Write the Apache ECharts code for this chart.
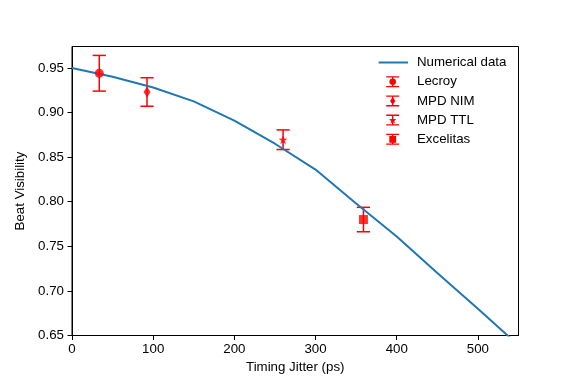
<!DOCTYPE html>
<html>
<head>
<meta charset="utf-8">
<script src="https://cdn.jsdelivr.net/npm/echarts@6/dist/echarts.min.js"></script>
<style>
html, body { margin: 0; padding: 0; background: #fff; }
#main { width: 576px; height: 384px; }
</style>
</head>
<body>
<div id="main"></div>
<script>
// numerical curve (timing jitter in ps -> visibility)
var jitter = [0, 50, 100, 150, 200, 250, 300, 350, 400, 450, 500, 550];
var visibility = [0.950, 0.940, 0.928, 0.9125, 0.891, 0.865, 0.836, 0.798, 0.761, 0.720, 0.680, 0.639];

// measured points
var detNames = ['Lecroy', 'MPD NIM', 'MPD TTL', 'Excelitas'];
var detJitter = [33.6, 92.4, 260, 359];
var detVis = [0.944, 0.923, 0.8695, 0.780];
var detErr = [0.020, 0.016, 0.011, 0.0137];

var xTicks = [0, 100, 200, 300, 400, 500];
var yTicks = [0.65, 0.70, 0.75, 0.80, 0.85, 0.90, 0.95];

var font = 'Liberation Sans, Arial, sans-serif';
var red = '#ff0000';
var blue = '#1f77b4';

// star marker path (10 points)
function starPath(cx, cy, ro, ri) {
    var s = '';
    for (var i = 0; i < 10; i++) {
        var r = i % 2 === 0 ? ro : ri;
        var a = -Math.PI / 2 + i * Math.PI / 5;
        s += (i === 0 ? 'M' : 'L') + (cx + r * Math.cos(a)).toFixed(2) + ' ' + (cy + r * Math.sin(a)).toFixed(2) + ' ';
    }
    return s + 'Z';
}
function rect(x1, y1, x2, y2) {
    return 'M' + x1 + ' ' + y1 + ' L' + x2 + ' ' + y1 + ' L' + x2 + ' ' + y2 + ' L' + x1 + ' ' + y2 + ' Z ';
}

var plotSymbols = [
    {symbol: 'circle', size: 9},
    {symbol: 'diamond', size: [7, 11]},
    {symbol: 'path://' + starPath(10, 10, 10, 4), size: 9},
    {symbol: 'rect', size: 9}
];

// legend icons, box 40 x 14
var cx = 20.7, cy = 7;
var frameBox = 'M0 0 M40 14 ';
var errBar = rect(14.2, 1.5, 27.2, 2.8) + rect(20, 1.5, 21.4, 12.5) + rect(14.2, 11.2, 27.2, 12.5);
var legendMarks = [
    'M' + (cx - 3.3) + ' ' + cy + ' A3.3 3.3 0 1 1 ' + (cx + 3.3) + ' ' + cy + ' A3.3 3.3 0 1 1 ' + (cx - 3.3) + ' ' + cy + ' Z',
    'M' + cx + ' 2.8 L' + (cx + 2.6) + ' 7 L' + cx + ' 11.2 L' + (cx - 2.6) + ' 7 Z',
    starPath(cx, cy + 0.3, 3.8, 1.6),
    rect(cx - 3.4, 3.6, cx + 3.4, 10.4)
];

function errRender(params, api) {
    var x = api.value(0), y = api.value(1), e = api.value(2);
    var top = api.coord([x, y + e]);
    var bot = api.coord([x, y - e]);
    var hw = 6.6;
    var st = {stroke: red, lineWidth: 1.5};
    return {
        type: 'group',
        children: [
            {type: 'line', shape: {x1: top[0], y1: top[1], x2: bot[0], y2: bot[1]}, style: st},
            {type: 'line', shape: {x1: top[0] - hw, y1: top[1], x2: top[0] + hw, y2: top[1]}, style: st},
            {type: 'line', shape: {x1: bot[0] - hw, y1: bot[1], x2: bot[0] + hw, y2: bot[1]}, style: st}
        ]
    };
}

var series = [{
    name: 'Numerical data',
    type: 'line',
    data: jitter.map(function (x, i) { return [x, visibility[i]]; }),
    symbol: 'none',
    color: blue,
    lineStyle: {width: 2, color: blue},
    animation: false
}];
var legendData = [{name: 'Numerical data', icon: 'path://' + frameBox + rect(6.6, 6, 36, 8)}];

detNames.forEach(function (name, i) {
    series.push({
        name: name,
        type: 'custom',
        renderItem: errRender,
        encode: {x: 0, y: 1},
        data: [[detJitter[i], detVis[i], detErr[i]]],
        itemStyle: {color: red},
        animation: false,
        z: 3
    });
    series.push({
        name: name,
        type: 'scatter',
        data: [[detJitter[i], detVis[i]]],
        symbol: plotSymbols[i].symbol,
        symbolSize: plotSymbols[i].size,
        itemStyle: {color: red},
        animation: false,
        z: 4
    });
    legendData.push({name: name, icon: 'path://' + frameBox + errBar + legendMarks[i]});
});

var chart = echarts.init(document.getElementById('main'), null, {renderer: 'canvas'});
chart.setOption({
    backgroundColor: '#fff',
    textStyle: {fontFamily: font},
    grid: {
        left: 72, right: 57.5, top: 46.5, bottom: 48.5,
        show: true, borderColor: '#000', borderWidth: 1, backgroundColor: 'transparent'
    },
    legend: {
        orient: 'vertical',
        left: 367,
        top: 50.5,
        itemWidth: 40,
        itemHeight: 14,
        itemGap: 5.2,
        selectedMode: false,
        itemStyle: {borderWidth: 0},
        textStyle: {fontFamily: font, fontSize: 13.3, color: '#000', lineHeight: 14},
        data: legendData
    },
    xAxis: {
        type: 'value',
        min: 0,
        max: 550,
        name: 'Timing Jitter (ps)',
        nameLocation: 'middle',
        nameGap: 25,
        nameTextStyle: {fontFamily: font, fontSize: 13.3, color: '#000'},
        axisLine: {show: true, onZero: false, lineStyle: {color: '#000', width: 1}},
        axisTick: {show: true, length: 4.5, customValues: xTicks, lineStyle: {color: '#000', width: 1}},
        axisLabel: {customValues: xTicks, margin: 7, fontFamily: font, fontSize: 13.3, color: '#000'},
        splitLine: {show: false}
    },
    yAxis: {
        type: 'value',
        min: 0.65,
        max: 0.974,
        name: 'Beat Visibility',
        nameLocation: 'middle',
        nameGap: 38,
        nameTextStyle: {fontFamily: font, fontSize: 13.3, color: '#000'},
        axisLine: {show: true, onZero: false, lineStyle: {color: '#000', width: 1}},
        axisTick: {show: true, length: 4.5, customValues: yTicks, lineStyle: {color: '#000', width: 1}},
        axisLabel: {
            customValues: yTicks, margin: 8, fontFamily: font, fontSize: 13.3, color: '#000',
            formatter: function (v) { return v.toFixed(2); }
        },
        splitLine: {show: false}
    },
    series: series
});
</script>
</body>
</html>
